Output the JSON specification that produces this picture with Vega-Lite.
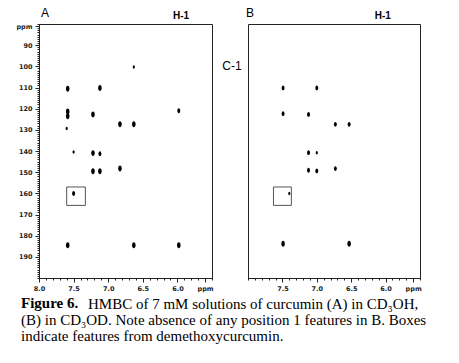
{
  "$schema": "https://vega.github.io/schema/vega-lite/v6.json",
  "background": "white",
  "padding": {"left": 15, "top": 6, "right": 5, "bottom": 5},
  "bounds": "flush",
  "spacing": 36,
  "datasets": {
    "specA": [
      {"h": 7.585, "c": 110.6, "intensity": "strong"},
      {"h": 7.12, "c": 110.2, "intensity": "strong"},
      {"h": 6.63, "c": 100.3, "intensity": "weak"},
      {"h": 7.585, "c": 121.3, "intensity": "strong"},
      {"h": 7.585, "c": 123.6, "intensity": "strong"},
      {"h": 7.22, "c": 122.7, "intensity": "strong"},
      {"h": 6.83, "c": 127.4, "intensity": "strong"},
      {"h": 6.63, "c": 127.4, "intensity": "strong"},
      {"h": 5.98, "c": 121.0, "intensity": "medium"},
      {"h": 7.6, "c": 129.4, "intensity": "weak"},
      {"h": 7.5, "c": 140.5, "intensity": "weak"},
      {"h": 7.22, "c": 141.0, "intensity": "strong"},
      {"h": 7.12, "c": 141.3, "intensity": "medium"},
      {"h": 7.22, "c": 149.6, "intensity": "strong"},
      {"h": 7.12, "c": 149.6, "intensity": "strong"},
      {"h": 6.83, "c": 148.3, "intensity": "strong"},
      {"h": 7.5, "c": 160.1, "intensity": "medium"},
      {"h": 7.585, "c": 184.5, "intensity": "strong"},
      {"h": 6.63, "c": 184.5, "intensity": "strong"},
      {"h": 5.98, "c": 184.5, "intensity": "strong"}
    ],
    "specB": [
      {"h": 7.49, "c": 110.2, "intensity": "medium"},
      {"h": 7.0, "c": 110.2, "intensity": "medium"},
      {"h": 7.49, "c": 122.4, "intensity": "medium"},
      {"h": 7.12, "c": 122.7, "intensity": "medium"},
      {"h": 6.73, "c": 127.4, "intensity": "medium"},
      {"h": 6.53, "c": 127.4, "intensity": "medium"},
      {"h": 7.12, "c": 140.8, "intensity": "medium"},
      {"h": 7.0, "c": 140.8, "intensity": "weak"},
      {"h": 7.12, "c": 149.1, "intensity": "medium"},
      {"h": 7.0, "c": 149.4, "intensity": "medium"},
      {"h": 6.73, "c": 148.3, "intensity": "medium"},
      {"h": 7.40, "c": 160.1, "intensity": "weak"},
      {"h": 7.49, "c": 183.8, "intensity": "strong"},
      {"h": 6.53, "c": 183.8, "intensity": "strong"}
    ],
    "boxA": [{"h1": 7.6, "h2": 7.33, "c1": 157.0, "c2": 165.7}],
    "boxB": [{"h1": 7.63, "h2": 7.37, "c1": 157.0, "c2": 165.7}],
    "labelsA": [
      {"label": "A", "h": 7.913, "c": 74.8},
      {"label": "C-1", "h": 5.211, "c": 99.8}
    ],
    "headA": [{"label": "H-1", "h": 5.948, "c": 76}],
    "labelsB": [{"label": "B", "h": 7.97, "c": 74.8}],
    "headB": [{"label": "H-1", "h": 6.04, "c": 76}]
  },
  "config": {
    "view": {"stroke": "#222", "strokeWidth": 1},
    "axis": {
      "labelFont": "DejaVu Sans",
      "labelFontWeight": "bold",
      "labelFontSize": 6.5,
      "labelColor": "#222",
      "domainColor": "#222",
      "tickColor": "#222",
      "grid": false,
      "labelFlush": false,
      "labelOverlap": false,
      "labelPadding": 3,
      "title": null
    },
    "text": {"font": "Liberation Sans", "color": "#000"}
  },
  "title": {
    "text": "Figure 6.",
    "subtitle": [
      "(B) in CD\u2083OD. Note absence of any position 1 features in B. Boxes",
      "indicate features from demethoxycurcumin."
    ],
    "orient": "bottom",
    "anchor": "start",
    "frame": "group",
    "font": "Liberation Serif",
    "fontSize": 15,
    "fontWeight": "bold",
    "color": "#000",
    "subtitleFont": "Liberation Serif",
    "subtitleFontSize": 15,
    "subtitleFontWeight": "normal",
    "subtitleColor": "#000",
    "subtitleLineHeight": 16.5,
    "subtitlePadding": 1.5,
    "offset": -16,
    "dx": -18
  },
  "hconcat": [
    {
      "width": 173,
      "height": 254,
      "title": {
        "text": "HMBC of 7 mM solutions of curcumin (A) in CD\u2083OH,",
        "orient": "bottom",
        "anchor": "start",
        "frame": "group",
        "font": "Liberation Serif",
        "fontSize": 15,
        "fontWeight": "normal",
        "color": "#000",
        "offset": 5,
        "dx": 49
      },
      "layer": [
        {
          "data": {"name": "specA"},
          "mark": {"type": "point", "filled": true, "color": "#000", "opacity": 1, "shape": "M0,-1A0.6,1,0,1,1,0,1A0.6,1,0,1,1,0,-1Z"},
          "encoding": {
            "x": {"field": "h", "type": "quantitative", "scale": {"domain": [5.5, 8.0], "reverse": true, "nice": false, "zero": false},
              "axis": {"orient": "bottom", "values": [8.0, 7.5, 7.0, 6.5, 6.0, 5.6], "labelExpr": "datum.value < 5.8 ? 'ppm' : format(datum.value, '.1f')", "tickSize": 4}},
            "y": {"field": "c", "type": "quantitative", "scale": {"domain": [80, 200], "reverse": true, "nice": false, "zero": false},
              "axis": {"orient": "left", "values": [81, 90, 100, 110, 120, 130, 140, 150, 160, 170, 180, 190], "labelExpr": "datum.value < 85 ? 'ppm' : datum.label", "tickSize": 4}},
            "size": {"field": "intensity", "type": "ordinal", "scale": {"domain": ["weak", "medium", "strong"], "range": [12, 35, 70]}, "legend": null}
          }
        },
        {
          "data": {"name": "boxA"},
          "mark": {"type": "rect", "fill": "transparent", "stroke": "#555", "strokeWidth": 1},
          "encoding": {
            "x": {"field": "h1", "type": "quantitative",
              "axis": {"orient": "bottom", "labels": false, "domain": false, "tickSize": 2, "values": [8.0, 7.9, 7.8, 7.7, 7.6, 7.5, 7.4, 7.3, 7.2, 7.1, 7.0, 6.9, 6.8, 6.7, 6.6, 6.5, 6.4, 6.3, 6.2, 6.1, 6.0, 5.9, 5.8, 5.7, 5.6, 5.5]}},
            "x2": {"field": "h2"},
            "y": {"field": "c1", "type": "quantitative",
              "axis": {"orient": "left", "labels": false, "domain": false, "tickSize": 2, "values": [80, 81, 82, 83, 84, 85, 86, 87, 88, 89, 90, 91, 92, 93, 94, 95, 96, 97, 98, 99, 100, 101, 102, 103, 104, 105, 106, 107, 108, 109, 110, 111, 112, 113, 114, 115, 116, 117, 118, 119, 120, 121, 122, 123, 124, 125, 126, 127, 128, 129, 130, 131, 132, 133, 134, 135, 136, 137, 138, 139, 140, 141, 142, 143, 144, 145, 146, 147, 148, 149, 150, 151, 152, 153, 154, 155, 156, 157, 158, 159, 160, 161, 162, 163, 164, 165, 166, 167, 168, 169, 170, 171, 172, 173, 174, 175, 176, 177, 178, 179, 180, 181, 182, 183, 184, 185, 186, 187, 188, 189, 190, 191, 192, 193, 194, 195, 196, 197, 198, 199, 200]}},
            "y2": {"field": "c2"}
          }
        },
        {
          "data": {"name": "labelsA"},
          "mark": {"type": "text", "fontSize": 12, "baseline": "middle", "align": "center"},
          "encoding": {
            "x": {"field": "h", "type": "quantitative", "axis": null},
            "y": {"field": "c", "type": "quantitative", "axis": null},
            "text": {"field": "label"}
          }
        },
        {
          "data": {"name": "headA"},
          "mark": {"type": "text", "fontSize": 10, "fontWeight": "bold", "baseline": "middle", "align": "center"},
          "encoding": {
            "x": {"field": "h", "type": "quantitative", "axis": null},
            "y": {"field": "c", "type": "quantitative", "axis": null},
            "text": {"field": "label"}
          }
        }
      ],
      "resolve": {"axis": {"x": "independent", "y": "independent"}}
    },
    {
      "width": 172,
      "height": 254,
      "layer": [
        {
          "data": {"name": "specB"},
          "mark": {"type": "point", "filled": true, "color": "#000", "opacity": 1, "shape": "M0,-1A0.6,1,0,1,1,0,1A0.6,1,0,1,1,0,-1Z"},
          "encoding": {
            "x": {"field": "h", "type": "quantitative", "scale": {"domain": [5.5, 8.0], "reverse": true, "nice": false, "zero": false},
              "axis": {"orient": "bottom", "values": [7.5, 7.0, 6.5, 6.0, 5.6], "labelExpr": "datum.value < 5.8 ? 'ppm' : format(datum.value, '.1f')", "tickSize": 4}},
            "y": {"field": "c", "type": "quantitative", "scale": {"domain": [80, 200], "reverse": true, "nice": false, "zero": false}, "axis": null},
            "size": {"field": "intensity", "type": "ordinal", "scale": {"domain": ["weak", "medium", "strong"], "range": [12, 35, 70]}, "legend": null}
          }
        },
        {
          "data": {"name": "boxB"},
          "mark": {"type": "rect", "fill": "transparent", "stroke": "#555", "strokeWidth": 1},
          "encoding": {
            "x": {"field": "h1", "type": "quantitative",
              "axis": {"orient": "bottom", "labels": false, "domain": false, "tickSize": 2, "values": [8.0, 7.9, 7.8, 7.7, 7.6, 7.5, 7.4, 7.3, 7.2, 7.1, 7.0, 6.9, 6.8, 6.7, 6.6, 6.5, 6.4, 6.3, 6.2, 6.1, 6.0, 5.9, 5.8, 5.7, 5.6, 5.5]}},
            "x2": {"field": "h2"},
            "y": {"field": "c1", "type": "quantitative", "axis": null},
            "y2": {"field": "c2"}
          }
        },
        {
          "data": {"name": "labelsB"},
          "mark": {"type": "text", "fontSize": 12, "baseline": "middle", "align": "center"},
          "encoding": {
            "x": {"field": "h", "type": "quantitative", "axis": null},
            "y": {"field": "c", "type": "quantitative", "axis": null},
            "text": {"field": "label"}
          }
        },
        {
          "data": {"name": "headB"},
          "mark": {"type": "text", "fontSize": 10, "fontWeight": "bold", "baseline": "middle", "align": "center"},
          "encoding": {
            "x": {"field": "h", "type": "quantitative", "axis": null},
            "y": {"field": "c", "type": "quantitative", "axis": null},
            "text": {"field": "label"}
          }
        }
      ],
      "resolve": {"axis": {"x": "independent"}}
    }
  ]
}
